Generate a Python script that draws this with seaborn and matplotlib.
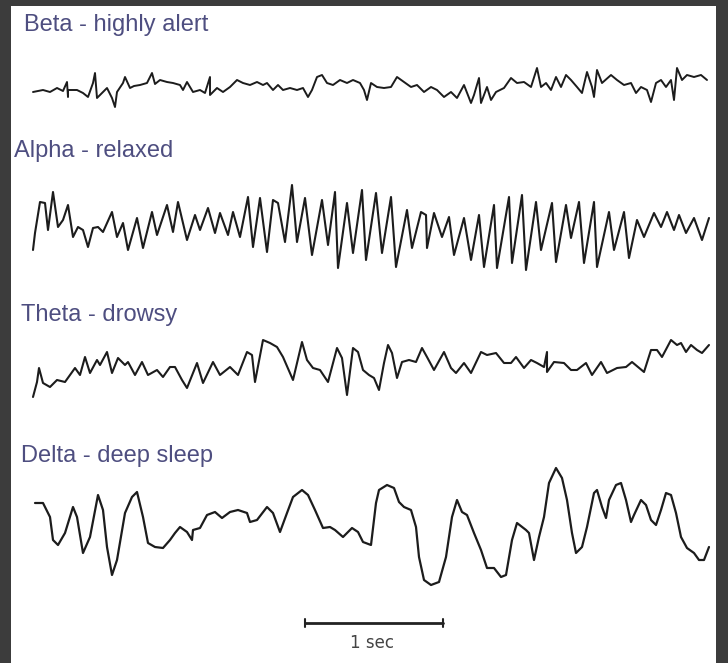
import numpy as np
import pandas as pd
import seaborn as sns
import matplotlib.pyplot as plt
from matplotlib.patches import Rectangle

# traces, in image pixels (x right, y down)
beta_x = [33, 43, 50, 57, 63, 67, 68, 68, 77, 83, 88, 93, 95, 97, 100, 107, 112, 115, 117,
          123, 125, 130, 134, 140, 147, 152, 155, 160, 167, 173, 180, 183, 187, 193, 200, 205,
          210, 210, 217, 223, 230, 237, 243, 250, 257, 263, 267, 273, 278, 283, 290, 297, 303,
          308, 312, 317, 322, 327, 333, 340, 347, 353, 360,
          364, 367, 371, 377, 384, 391, 397, 404, 411, 417, 424, 431, 437, 444, 451, 457, 464,
          471, 474, 479, 481, 487, 491, 496, 504, 511, 517, 524, 531, 537, 541, 546, 551, 556,
          561, 566, 571, 577, 582, 587, 592, 594, 597, 602, 611, 617, 624, 631, 636, 641, 647,
          651, 656, 661, 666, 671, 674, 677, 682, 687, 694, 701, 707]
beta_y = [92, 90, 92, 88, 91, 82, 97, 90, 90, 93, 97, 83, 73, 98, 95, 88, 98, 107, 92,
          83, 77, 88, 86, 85, 83, 73, 84, 80, 82, 83, 85, 90, 82, 92, 90, 93,
          77, 95, 88, 92, 87, 80, 83, 85, 82, 85, 83, 90, 85, 90, 88, 90, 88,
          97, 90, 77, 75, 83, 85, 80, 83, 80, 83,
          90, 100, 83, 87, 88, 87, 77, 82, 87, 85, 92, 87, 90, 97, 92, 98, 85,
          103, 95, 78, 103, 87, 100, 92, 88, 78, 83, 82, 87, 68, 87, 83, 90, 77,
          87, 75, 80, 87, 93, 72, 87, 97, 70, 83, 75, 80, 85, 83, 93, 87, 90,
          102, 83, 80, 87, 80, 100, 68, 80, 75, 77, 75, 80]

alpha_x = [33, 35, 40, 45, 48, 53, 58, 63, 68, 73, 78, 83, 88, 93, 98, 103, 112, 117, 123,
           128, 137, 143, 152, 157, 167, 173, 178, 187, 195, 200, 208, 215, 220, 228, 233, 240,
           248, 253, 260, 267, 273, 278, 285, 292, 297, 305, 312, 322, 328, 335, 338, 347, 353,
           362, 366, 376, 382, 391, 396, 407, 412, 421, 426, 427, 434, 442, 449, 454, 464, 471,
           479, 484, 494, 497, 509, 512, 522, 526, 536, 541, 552, 556, 566, 571, 579, 584, 594,
           597, 609, 614, 624, 629, 637, 644, 654, 661, 667, 674, 679, 686, 694, 702, 709]
alpha_y = [250, 233, 202, 203, 230, 192, 227, 220, 205, 237, 227, 230, 247, 228, 227, 232, 212, 237, 223,
           250, 218, 248, 212, 235, 205, 232, 202, 240, 215, 230, 208, 233, 213, 235, 212, 237,
           197, 247, 198, 252, 200, 203, 242, 185, 242, 198, 255, 200, 245, 192, 268, 203, 253,
           190, 260, 193, 253, 197, 267, 210, 248, 212, 215, 248, 213, 237, 217, 255, 218, 260,
           215, 267, 205, 268, 197, 263, 195, 270, 202, 250, 203, 262, 205, 238, 202, 263, 202,
           267, 212, 250, 212, 258, 220, 237, 213, 227, 212, 230, 215, 233, 218, 240, 218]

theta_x = [33, 37, 39, 43, 50, 57, 65, 75, 80, 85, 90, 97, 100, 107, 112, 118, 125, 128, 135,
           142, 148, 157, 163, 170, 175, 182, 187, 197, 203, 213, 220, 230, 238, 247, 252, 255,
           263, 270, 277, 283, 293, 302, 307, 313, 320, 328, 337, 342, 347, 353, 358, 363,
           369, 374, 379, 384, 388, 392, 397, 402, 409, 416, 422, 427, 434, 444, 451, 456, 464,
           471, 481, 487, 496, 504, 511, 516, 524, 531, 537, 544, 547, 547, 554, 564, 571, 577,
           586, 592, 601, 607, 617, 626, 632, 644, 651, 657, 662, 671, 677, 681, 686, 691, 697,
           702, 709]
theta_y = [397, 382, 368, 383, 387, 380, 382, 368, 375, 357, 373, 360, 365, 352, 373, 358, 365, 362, 375,
           362, 375, 370, 377, 367, 367, 380, 388, 363, 383, 362, 375, 367, 375, 352, 355, 382,
           340, 343, 347, 357, 380, 342, 360, 368, 370, 382, 348, 358, 395, 348, 352, 370,
           375, 378, 390, 363, 345, 353, 378, 362, 360, 362, 348, 357, 370, 352, 368, 373, 363,
           373, 352, 355, 353, 363, 363, 357, 368, 360, 363, 367, 352, 372, 362, 363, 370, 370,
           363, 375, 362, 373, 368, 367, 362, 372, 350, 350, 357, 340, 345, 343, 352, 345, 350,
           353, 345]

delta_x = [35, 43, 50, 53, 58, 65, 73, 77, 83, 90, 98, 103, 107, 112, 117, 125, 132, 137, 143,
           148, 155, 163, 170, 175, 180, 187, 192, 193, 200, 207, 215, 222, 230, 238, 247, 250,
           257, 267, 273, 280, 287, 293, 302, 308, 315, 323, 330, 335, 343, 352, 358, 363,
           371, 376, 379, 387, 394, 399, 404, 411, 416, 419, 424, 431, 439, 446, 452, 457, 462,
           467, 474, 481, 487, 494, 501, 506, 512, 517, 526, 529, 534, 539, 544, 549, 556, 562,
           567, 572, 576, 582, 587, 594, 597, 602, 606, 609, 616, 621, 626, 631, 634, 641, 646,
           651, 656, 661, 666, 671, 676, 681, 687, 694, 699, 704, 709]
delta_y = [503, 503, 517, 540, 545, 533, 507, 517, 553, 537, 495, 510, 547, 575, 560, 513, 497, 492, 517,
           543, 547, 548, 540, 533, 527, 532, 540, 530, 528, 515, 512, 518, 512, 510, 513, 522,
           520, 507, 513, 532, 513, 497, 490, 495, 510, 528, 527, 530, 537, 528, 532, 542,
           545, 503, 490, 485, 488, 502, 507, 510, 527, 557, 580, 585, 582, 557, 517, 500, 512,
           515, 533, 550, 568, 568, 577, 575, 540, 523, 530, 533, 560, 537, 517, 483, 468, 478,
           500, 533, 553, 547, 527, 493, 490, 507, 518, 500, 485, 483, 500, 522, 515, 500, 505,
           520, 525, 510, 493, 495, 513, 537, 548, 553, 560, 560, 547]

labels = ['Beta - highly alert', 'Alpha - relaxed', 'Theta - drowsy', 'Delta - deep sleep']
label_pos = [(24, 31), (14, 157), (21, 321), (21, 462)]
scale_bar = (305, 443, 623)
scale_text = '1 sec'

sns.set_style('white')

fig = plt.figure(figsize=(7.28, 6.63), dpi=100)
ax = fig.add_axes([0, 0, 1, 1])
ax.set_facecolor('#3c3c3c')
fig.patch.set_facecolor('#3c3c3c')
ax.add_patch(Rectangle((11, 6), 705, 660, facecolor='white', edgecolor='none', zorder=0))

traces = [(beta_x, beta_y, 1.4), (alpha_x, alpha_y, 1.5),
          (theta_x, theta_y, 1.5), (delta_x, delta_y, 1.6)]
for xs, ys, lw in traces:
    sns.lineplot(x=xs, y=ys, sort=False, estimator=None, color='#1c1c1c', lw=lw, ax=ax,
                 solid_joinstyle='round', solid_capstyle='round')

for txt, (tx, ty) in zip(labels, label_pos):
    ax.text(tx, ty, txt, fontsize=17, color='#4e4e80', family='Liberation Sans',
            va='baseline', ha='left')

x0, x1, yb = scale_bar
ax.plot([x0, x1], [yb, yb], color='#222222', lw=2)
ax.plot([x0, x0], [yb - 4, yb + 4], color='#222222', lw=1.5)
ax.plot([x1, x1], [yb - 4, yb + 4], color='#222222', lw=1.5)
ax.text(372, 643, scale_text, fontsize=12, color='#444444', family='DejaVu Sans',
        ha='center', va='center')

ax.set_xlim(0, 728)
ax.set_ylim(663, 0)
ax.axis('off')

plt.savefig('out.png', dpi=100, facecolor=fig.get_facecolor())
